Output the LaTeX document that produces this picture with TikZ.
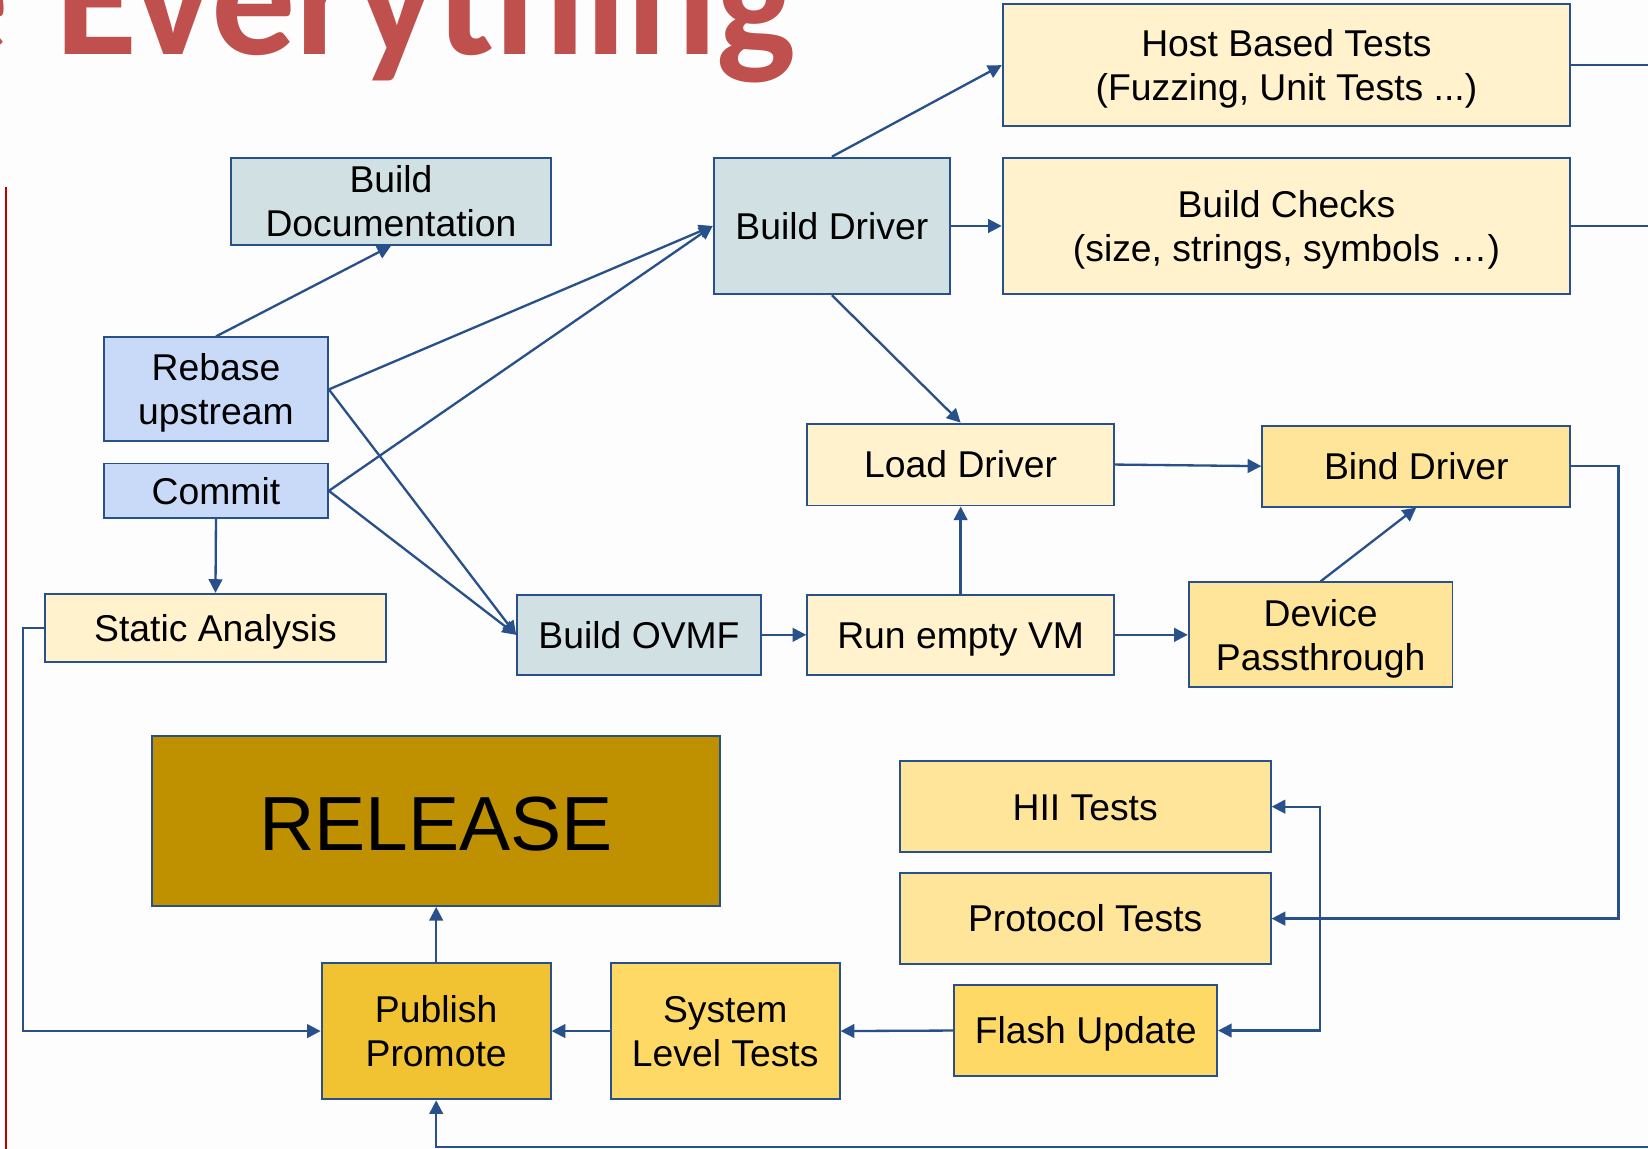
\documentclass[tikz,border=0pt]{standalone}
\usepackage{fontspec}
\setmainfont{Liberation Sans}
\newfontfamily\titlefont{Carlito}
\usetikzlibrary{arrows.meta}
\definecolor{edgec}{RGB}{40,80,138}
\definecolor{cream}{HTML}{FFF2CC}
\definecolor{ltyel}{HTML}{FFE599}
\definecolor{yel}{HTML}{FFD966}
\definecolor{gold}{HTML}{F1C232}
\definecolor{dkgold}{HTML}{BF9000}
\definecolor{bgray}{HTML}{D0E0E3}
\definecolor{lblue}{HTML}{C9DAF8}
\definecolor{titred}{HTML}{C0504D}
\definecolor{bgc}{RGB}{253,253,253}
\definecolor{redline}{HTML}{C00000}
\newcommand\lnstrut{\rule[-7.6pt]{0pt}{40.6pt}}
\tikzset{
  box/.style={draw=edgec, line width=1.8pt, rectangle, inner sep=0pt, align=center,
    font=\fontsize{35.5}{42}\selectfont, text=black},
  conn/.style={draw=edgec, line width=2.2pt, -{Triangle[length=13pt,width=13pt]}},
  plain/.style={draw=edgec, line width=2.2pt},
}
\begin{document}
\begin{tikzpicture}[x=1pt,y=-1pt]
\useasboundingbox (0,0) rectangle (1568,1093);
\fill[bgc] (0,0) rectangle (1568,1093);
% title
\node[anchor=base east, inner sep=0pt, text=titred, font=\titlefont\bfseries\fontsize{160}{160}\selectfont] (title) at (758,52) {Everything};
\node[anchor=base east, inner sep=0pt, text=titred, font=\titlefont\bfseries\fontsize{160}{160}\selectfont] (title0) at (9,52) {e};
% red margin line
\draw[redline, line width=1.6pt] (6,178) -- (6,1093);
% nodes
\node[box, fill=cream, minimum width=540, minimum height=116] (host) at (1224,62) {\lnstrut Host Based Tests\\\lnstrut(Fuzzing, Unit Tests ...)};
\node[box, fill=cream, minimum width=540, minimum height=130] (checks) at (1224,215) {\lnstrut Build Checks\\\lnstrut(size, strings, symbols …)};
\node[box, fill=bgray, minimum width=304, minimum height=83] (doc) at (372,191.5) {\lnstrut Build\\\lnstrut Documentation};
\node[box, fill=bgray, minimum width=225, minimum height=130] (bdrv) at (791.5,215) {\lnstrut Build Driver};
\node[box, fill=lblue, minimum width=213, minimum height=99] (rebase) at (205.5,370.5) {\lnstrut Rebase\\\lnstrut upstream};
\node[box, fill=lblue, minimum width=213, minimum height=52] (commit) at (205.5,467) {\lnstrut Commit};
\node[box, fill=cream, minimum width=324, minimum height=65] (static) at (205,597.5) {\lnstrut Static Analysis};
\node[box, fill=bgray, minimum width=232, minimum height=76] (ovmf) at (608,604) {\lnstrut Build OVMF};
\node[box, fill=cream, minimum width=292, minimum height=76] (runvm) at (914,604) {\lnstrut Run empty VM};
\node[box, fill=cream, minimum width=292, minimum height=78] (load) at (914,442) {\lnstrut Load Driver};
\node[box, fill=ltyel, minimum width=293, minimum height=77] (bind) at (1347.5,443.5) {\lnstrut Bind Driver};
\node[box, fill=ltyel, minimum width=251, minimum height=100] (dev) at (1256.5,604) {\lnstrut Device\\\lnstrut Passthrough};
\node[box, fill=dkgold, minimum width=540, minimum height=162, font=\fontsize{73}{80}\selectfont] (release) at (415,781) {\rule{0pt}{58pt}RELEASE};
\node[box, fill=ltyel, minimum width=353, minimum height=87] (hii) at (1032.5,767.5) {\lnstrut HII Tests};
\node[box, fill=ltyel, minimum width=353, minimum height=86] (proto) at (1032.5,874) {\lnstrut Protocol Tests};
\node[box, fill=yel, minimum width=250, minimum height=87] (flash) at (1033,980.5) {\lnstrut Flash Update};
\node[box, fill=yel, minimum width=218, minimum height=130] (slt) at (690,981) {\lnstrut System\\\lnstrut Level Tests};
\node[box, fill=gold, minimum width=218, minimum height=130] (pub) at (415,981) {\lnstrut Publish\\\lnstrut Promote};
% helper coordinates
\coordinate (hostout) at (1568,62);
\coordinate (checksout) at (1568,215);
\coordinate (sl) at (22,597.5);
\coordinate (bindr) at (1540,443.5);
\coordinate (hx) at (1256,874);
\coordinate (br) at (1568,1091);
% connectors
\draw[plain] (host.east) -- (hostout);
\draw[plain] (checks.east) -- (checksout);
\draw[conn] (bdrv.north) -- (host.west);
\draw[conn] (bdrv.east) -- (checks.west);
\draw[conn] (bdrv.south) -- (load.north);
\draw[conn] (rebase.north) -- (doc.south);
\draw[conn] (rebase.east) -- (bdrv.west);
\draw[conn] (rebase.east) -- (ovmf.west);
\draw[conn] (commit.east) -- (bdrv.west);
\draw[conn] (commit.east) -- (ovmf.west);
\draw[conn] (commit.south) -- (static.north);
\draw[conn] (static.west) -- (sl) |- (pub.west);
\draw[conn] (ovmf.east) -- (runvm.west);
\draw[conn] (runvm.north) -- (load.south);
\draw[conn] (runvm.east) -- (dev.west);
\draw[conn] (load.east) -- (bind.west);
\draw[conn] (dev.north) -- (bind.south);
\draw[conn] (bind.east) -- (bindr) |- (proto.east);
\draw[conn] (hx) |- (hii.east);
\draw[conn] (hx) |- (flash.east);
\draw[conn] (flash.west) -- (slt.east);
\draw[conn] (slt.west) -- (pub.east);
\draw[conn] (pub.north) -- (release.south);
\draw[conn] (br) -| (pub.south);
\end{tikzpicture}
\end{document}
